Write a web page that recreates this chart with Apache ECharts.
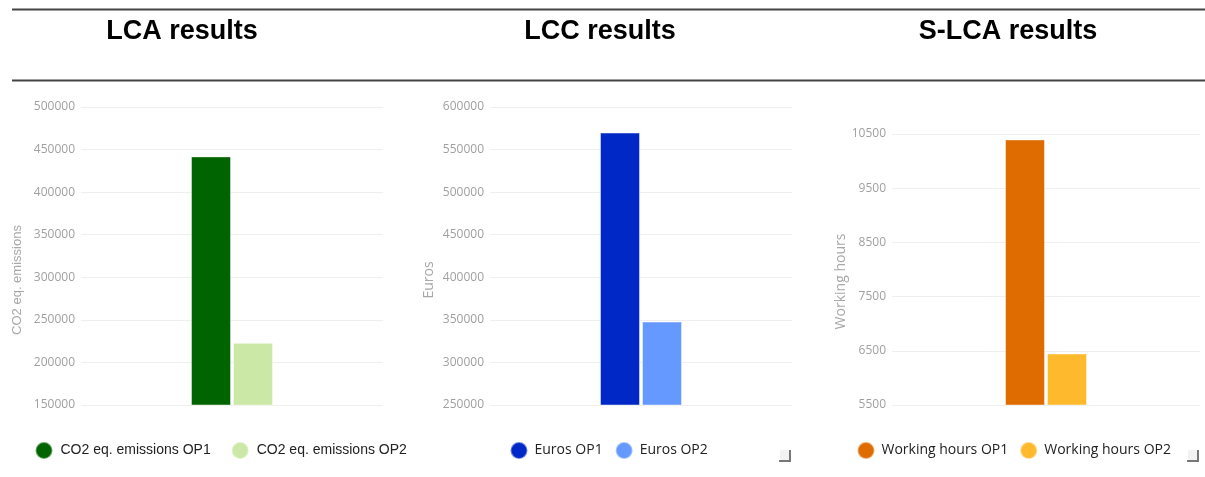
<!DOCTYPE html>
<html>
<head>
<meta charset="utf-8">
<script src="https://cdn.jsdelivr.net/npm/echarts@6/dist/echarts.min.js"></script>
<style>
html,body{margin:0;padding:0;background:#fff;}
#c{width:1205px;height:477px;}
</style>
</head>
<body>
<div id="c"></div>
<script>
// ---- data ----
const panelTitles = ['LCA results', 'LCC results', 'S-LCA results'];
const axisNames = ['CO2 eq. emissions', 'Euros', 'Working hours'];
const category = ['Result'];
const lcaSeriesNames = ['CO2 eq. emissions OP1', 'CO2 eq. emissions OP2'];
const lcaValues = [442000, 223000];
const lccSeriesNames = ['Euros OP1', 'Euros OP2'];
const lccValues = [570000, 348000];
const slcaSeriesNames = ['Working hours OP1', 'Working hours OP2'];
const slcaValues = [10400, 6450];
const lcaAxis = {min: 150000, max: 500000, interval: 50000};
const lccAxis = {min: 250000, max: 600000, interval: 50000};
const slcaAxis = {min: 5500, max: 10500, interval: 1000};

const colors = [
  ['#006400', '#cce8a6'],
  ['#0028c6', '#6699ff'],
  ['#df6c00', '#ffb92c']
];

const chart = echarts.init(document.getElementById('c'), null, {renderer: 'canvas'});

const grids = [
  {left: 81, top: 107, width: 302, height: 298},
  {left: 490, top: 107, width: 302, height: 298},
  {left: 892, top: 134, width: 308, height: 271}
];
const axisDefs = [lcaAxis, lccAxis, slcaAxis];
const seriesNames = [lcaSeriesNames, lccSeriesNames, slcaSeriesNames];
const seriesValues = [lcaValues, lccValues, slcaValues];
const nameFonts = [
  {family: 'Liberation Sans', size: 13, gap: 57, shift: 48},
  {family: 'Open Sans', size: 14, gap: 54, shift: 48},
  {family: 'Open Sans', size: 14, gap: 31, shift: 24}
];

const xAxes = grids.map((g, i) => ({
  type: 'category', gridIndex: i, data: category,
  axisLine: {show: false}, axisTick: {show: false}, axisLabel: {show: false}
}));
const yAxes = grids.map((g, i) => ({
  type: 'value', gridIndex: i,
  min: axisDefs[i].min, max: axisDefs[i].max, interval: axisDefs[i].interval,
  name: axisNames[i], nameLocation: 'middle', nameGap: nameFonts[i].gap,
  nameTextStyle: {color: '#a8a8a8', fontFamily: nameFonts[i].family, fontSize: nameFonts[i].size,
    padding: [0, nameFonts[i].shift, 0, 0]},
  axisLine: {show: false}, axisTick: {show: false},
  axisLabel: {color: '#a0a0a0', fontFamily: 'Open Sans', fontSize: 12, margin: 6,
    formatter: v => String(v)},
  splitLine: {lineStyle: {color: '#efefef', width: 1}}
}));

const series = [];
for (let i = 0; i < 3; i++) {
  for (let j = 0; j < 2; j++) {
    series.push({
      type: 'bar', name: seriesNames[i][j], xAxisIndex: i, yAxisIndex: i,
      data: [seriesValues[i][j]], barWidth: 40, barGap: '5%',
      itemStyle: {color: colors[i][j], borderColor: 'rgba(255,255,255,0.45)', borderWidth: 1},
      animation: false
    });
  }
}

const legendCfg = [
  {left: 29.5, family: 'Liberation Sans', size: 14, gap: 20, pad: 3},
  {left: 504.5, family: 'Open Sans', size: 14, gap: 12, pad: 2},
  {left: 851.5, family: 'Open Sans', size: 14, gap: 11, pad: 2}
];
const legends = legendCfg.map((l, i) => ({
  data: seriesNames[i], left: l.left, top: 436, orient: 'horizontal',
  icon: 'circle', itemWidth: 17, itemHeight: 17, itemGap: l.gap,
  textStyle: {color: '#222', fontFamily: l.family, fontSize: l.size, padding: [0, 0, 0, l.pad]},
  selectedMode: false
}));

const titleX = [182, 600, 1008];
const graphics = [
  {type: 'line', shape: {x1: 12, y1: 9.5, x2: 1205, y2: 9.5}, style: {stroke: '#444', lineWidth: 2}},
  {type: 'line', shape: {x1: 12, y1: 80.5, x2: 1205, y2: 80.5}, style: {stroke: '#444', lineWidth: 2}}
];
panelTitles.forEach((t, i) => {
  graphics.push({type: 'text', x: titleX[i], y: 32,
    style: {text: t, fill: '#000', font: 'bold 27px "Liberation Sans"', textAlign: 'center', textVerticalAlign: 'middle'}});
});
[785, 1193].forEach(x => {
  graphics.push({type: 'rect', shape: {x: x - 5, y: 450, width: 11, height: 11}, style: {fill: '#f2f2f2'}});
  graphics.push({type: 'polyline', shape: {points: [[x + 5, 450], [x + 5, 461], [x - 6, 461]]}, style: {stroke: '#777', lineWidth: 2, fill: null}});
});

chart.setOption({
  animation: false,
  backgroundColor: '#fff',
  grid: grids,
  xAxis: xAxes,
  yAxis: yAxes,
  legend: legends,
  series: series,
  graphic: graphics
});
</script>
</body>
</html>
